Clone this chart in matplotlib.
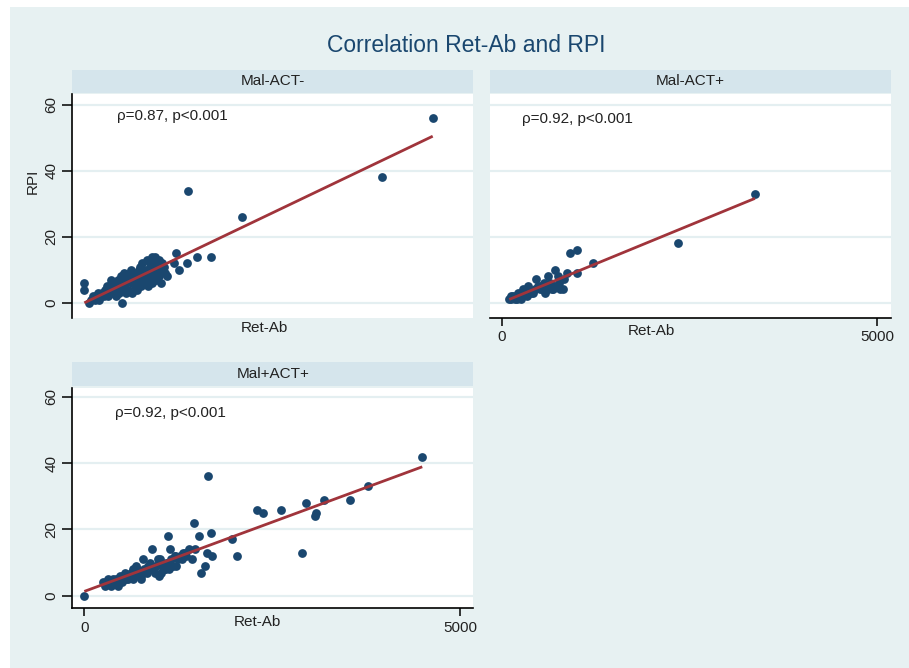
import matplotlib
matplotlib.use('Agg')
import matplotlib.pyplot as plt
from matplotlib.patches import Rectangle
import numpy as np

# ---------------- data ----------------
title = "Correlation Ret-Ab and RPI"
panel_names = ["Mal-ACT-", "Mal-ACT+", "Mal+ACT+"]
annotations = ["\u03c1=0.87, p<0.001", "\u03c1=0.92, p<0.001", "\u03c1=0.92, p<0.001"]
y_ticks = [0, 20, 40, 60]
x_ticks = [0, 5000]
x_label = "Ret-Ab"
y_label = "RPI"

# Panel 1: Mal-ACT-
p1_x = [4637, 3958, 1384, 2103, 1682, 1496, 1371, 1220, 1265, 1194, 941, 897, 1016, 506, 0, 0,
        60, 90, 110, 140, 160, 180, 200, 220, 240, 260, 280, 300, 320, 340, 360, 370, 380, 400,
        420, 440, 460, 480, 490, 500, 520, 540, 560, 580, 600, 620, 630, 650, 670, 690, 700, 720,
        740, 750, 760, 780, 800, 810, 830, 840, 860, 880, 900, 920, 940, 960, 980, 990, 1000,
        1010, 1020, 1040, 1060, 1080, 850, 900, 700, 640, 420, 560,
        300, 450, 610, 660, 730, 870, 950, 1100, 530, 770]
p1_y = [56, 38, 34, 26, 14, 14, 12, 15, 10, 12, 14, 14, 6, 0, 6, 4,
        0, 1, 2, 1, 2, 3, 1, 2, 3, 2, 4, 3, 2, 4, 7, 5, 3, 4,
        6, 5, 3, 6, 8, 4, 5, 7, 6, 4, 8, 10, 6, 7, 5, 9, 6, 8,
        11, 7, 5, 9, 6, 10, 13, 8, 7, 11, 9, 8, 10, 12, 11, 8, 13,
        9, 10, 12, 11, 9, 5, 6, 4, 3, 2, 3,
        5, 7, 9, 8, 10, 12, 7, 8, 9, 12]

# Panel 2: Mal-ACT+
p2_x = [3371, 2350, 998, 909, 1211, 998, 873, 709, 754, 829, 620, 456, 354, 665, 683, 505,
        394, 217, 128, 100, 150, 200, 250, 300, 330, 420, 480, 540, 560, 600, 640, 700, 760,
        580, 520, 440, 280, 180, 120, 260, 620, 780, 820]
p2_y = [33, 18, 16, 15, 12, 9, 9, 10, 8, 7, 8, 7, 5, 4, 4, 4,
        3, 3, 1, 1, 2, 1, 2, 3, 2, 3, 5, 4, 6, 5, 6, 5, 6,
        3, 5, 4, 4, 1, 2, 1, 4, 4, 4]

# Panel 3: Mal+ACT+
p3_x = [4498, 3776, 3536, 3190, 3084, 3075, 2951, 2902, 2622, 2374, 2294, 2028, 1961, 1642,
        1686, 1531, 1464, 1695, 1629, 1606, 1553, 1429, 1473, 1398, 1318, 1207, 1109, 1141,
        1220, 1305, 1340, 1127, 1074, 897,
        0, 250, 270, 315, 350, 404, 420, 471, 500, 537, 560, 581, 600, 626, 650, 680, 692,
        720, 754, 781, 800, 830, 848, 870, 900, 936, 960, 981, 1000, 1020, 1040, 1070, 1090,
        1114, 1160, 1180, 1203, 1250, 1280, 1360, 1000, 760, 650, 450, 380, 520, 700, 1007]
p3_y = [42, 33, 29, 29, 25, 24, 28, 13, 26, 25, 26, 12, 17, 36,
        19, 18, 22, 12, 13, 9, 7, 11, 14, 14, 13, 12, 18, 14,
        9, 11, 13, 8, 8, 14,
        0, 4, 3, 5, 3, 4, 5, 6, 4, 7, 5, 5, 6, 7, 8, 6, 9,
        7, 6, 11, 8, 7, 9, 10, 8, 7, 9, 11, 10, 7, 9, 8, 10,
        10, 11, 9, 12, 11, 12, 12, 6, 5, 5, 3, 5, 6, 8, 11]

# ---------------- style ----------------
BG = '#E7F1F2'
STRIP = '#D5E5EC'
GRID = '#E4EFF1'
NAVY = '#1A476F'
MAROON = '#A0343B'
TXT = '#222222'
FONT = ['Liberation Sans', 'DejaVu Sans']
plt.rcParams['font.family'] = FONT

W, H = 909, 668
fig = plt.figure(figsize=(W / 100, H / 100), dpi=100)
fig.patch.set_facecolor('white')


def fx(px):
    return px / W


def fy(py):
    return 1 - py / H


fig.patches.append(Rectangle((fx(10), 0), 1 - fx(10), fy(7), transform=fig.transFigure,
                             facecolor=BG, edgecolor='none', zorder=-10))

fig.text(fx(466), fy(46), title, ha='center', va='center', fontsize=16.5, color=NAVY)

XLIM = (-160, 5176)

panels = [
    dict(x=p1_x, y=p1_y, l=72.3, r=473.2, t=94.0, b=317.7, ylim=(-4.5, 63.3),
         strip=(70, 92.5), yaxis=True, xaxis=False, ann=(431, 56.7),
         xlab=(264, 328)),
    dict(x=p2_x, y=p2_y, l=489.7, r=890.6, t=94.0, b=317.7, ylim=(-4.6, 63.2),
         strip=(70, 92.5), yaxis=False, xaxis=True, ann=(266, 55.6),
         xlab=(651, 331)),
    dict(x=p3_x, y=p3_y, l=72.3, r=473.2, t=388.0, b=608.0, ylim=(-3.7, 62.7),
         strip=(362, 386), yaxis=True, xaxis=True, ann=(409, 55.1),
         xlab=(257, 622)),
]

for i, p in enumerate(panels):
    ax = fig.add_axes([fx(p['l']), fy(p['b']), fx(p['r']) - fx(p['l']), (p['b'] - p['t']) / H])
    ax.set_facecolor('white')
    ax.set_xlim(*XLIM)
    ax.set_ylim(*p['ylim'])
    for yt in y_ticks:
        ax.axhline(yt, color=GRID, lw=1.6, zorder=1)
    xs = np.array(p['x'], dtype=float)
    ys = np.array(p['y'], dtype=float)
    ax.scatter(xs, ys, s=40, color=NAVY, linewidths=0, zorder=3)
    b1, b0 = np.polyfit(xs, ys, 1)
    xl = np.array([xs.min(), xs.max()])
    ax.plot(xl, b0 + b1 * xl, color=MAROON, lw=2.0, zorder=4, solid_capstyle='butt')
    ax.text(p['ann'][0], p['ann'][1], annotations[i], ha='left', va='center',
            fontsize=11, color=TXT)
    for s in ax.spines.values():
        s.set_visible(False)
    if p['yaxis']:
        ax.spines['left'].set_visible(True)
        ax.spines['left'].set_color('black')
        ax.spines['left'].set_linewidth(1.2)
        ax.set_yticks(y_ticks)
        ax.set_yticklabels([str(v) for v in y_ticks], rotation=90, va='center',
                           fontsize=11, color=TXT)
        ax.tick_params(axis='y', length=7, width=1.1, direction='out', pad=3)
    else:
        ax.set_yticks([])
    if p['xaxis']:
        ax.spines['bottom'].set_visible(True)
        ax.spines['bottom'].set_color('black')
        ax.spines['bottom'].set_linewidth(1.2)
        ax.set_xticks(x_ticks)
        ax.set_xticklabels([str(v) for v in x_ticks], fontsize=11, color=TXT)
        ax.tick_params(axis='x', length=6, width=1.1, direction='out', pad=3)
    else:
        ax.set_xticks([])
    # strip header
    st, sb = p['strip']
    sax = fig.add_axes([fx(p['l']), fy(sb), fx(p['r']) - fx(p['l']), (sb - st) / H])
    sax.set_facecolor(STRIP)
    sax.set_xticks([])
    sax.set_yticks([])
    for s in sax.spines.values():
        s.set_visible(False)
    sax.text(0.5, 0.5, panel_names[i], ha='center', va='center', fontsize=11,
             color=TXT, transform=sax.transAxes)
    fig.text(fx(p['xlab'][0]), fy(p['xlab'][1]), x_label, ha='center', va='center',
             fontsize=11, color=TXT)

fig.text(fx(33), fy(181), y_label, ha='center', va='center', rotation=90,
         fontsize=11, color=TXT)

fig.savefig('out.png', dpi=100, facecolor=fig.get_facecolor())
